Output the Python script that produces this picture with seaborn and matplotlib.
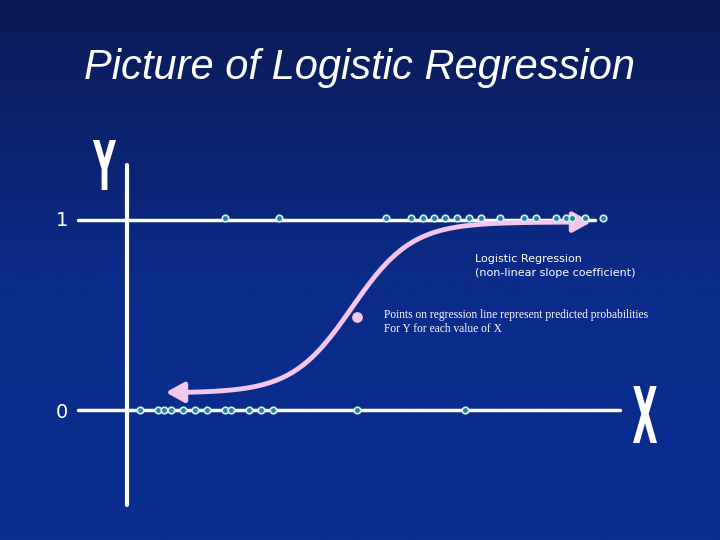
import numpy as np
import matplotlib
matplotlib.use("Agg")
import matplotlib.pyplot as plt
import seaborn as sns
from matplotlib.colors import LinearSegmentedColormap
from matplotlib.textpath import TextPath
from matplotlib.patches import PathPatch
from matplotlib.font_manager import FontProperties
from matplotlib.transforms import Affine2D

top_x = [225, 279, 386, 411, 423, 434, 445, 457, 469, 481, 500, 524, 536, 556, 566, 572, 585, 603]
bottom_x = [140, 158, 164, 171, 183, 195, 207, 225, 231, 249, 261, 273, 357, 465]
y_one, y_zero = 218, 410
mid_point = (357, 317)

sns.set_theme(style="white")
fig = plt.figure(figsize=(7.2, 5.4), dpi=100)
ax = fig.add_axes([0, 0, 1, 1])
ax.set_xlim(0, 720)
ax.set_ylim(540, 0)
ax.axis("off")

grad = np.linspace(0, 1, 256).reshape(-1, 1)
cmap = LinearSegmentedColormap.from_list("bg", ["#0b1a55", "#0a2b88", "#0a2e92"])
ax.imshow(grad, extent=[0, 720, 540, 0], cmap=cmap, aspect="auto", zorder=0)

ax.plot([78, 595], [220, 220], color="white", lw=2.5, zorder=2)
ax.plot([78, 620], [410, 410], color="white", lw=2.5, zorder=2)
ax.plot([127, 127], [165, 505], color="white", lw=3, zorder=2)

pink = "#f4c6ee"
xs = np.linspace(185, 578, 300)
ys = 393 - 171 / (1 + np.exp(-(xs - 352) / 30))
ax.plot(xs, ys, color=pink, lw=3.5, zorder=3, solid_capstyle="round")
ax.annotate("", xy=(163, ys[0]), xytext=(xs[0] + 5, ys[0]),
            arrowprops=dict(arrowstyle="-|>,head_length=0.9,head_width=0.5", color=pink, lw=3.5), zorder=3)
ax.annotate("", xy=(594, ys[-1]), xytext=(xs[-1] - 5, ys[-1]),
            arrowprops=dict(arrowstyle="-|>,head_length=0.9,head_width=0.5", color=pink, lw=3.5), zorder=3)

sns.scatterplot(x=top_x, y=[y_one] * len(top_x), ax=ax, s=22, marker="o",
                facecolor="#2a7f9a", edgecolor="#cfeff5", linewidth=1.2, zorder=4)
sns.scatterplot(x=bottom_x, y=[y_zero] * len(bottom_x), ax=ax, s=22, marker="o",
                facecolor="#2a7f9a", edgecolor="#cfeff5", linewidth=1.2, zorder=4)
ax.scatter([mid_point[0]], [mid_point[1]], s=45, color=pink, zorder=4)

ax.text(360, 68, "Picture of Logistic Regression", color="white", fontsize=30,
        style="italic", ha="center", va="center", family="Liberation Sans", zorder=5)

def tall_letter(ch, x0, x1, y0, y1):
    tp = TextPath((0, 0), ch, size=100, prop=FontProperties(family="DejaVu Sans", weight="bold"))
    ext = tp.get_extents()
    sx = (x1 - x0) / ext.width
    sy = (y1 - y0) / ext.height
    tr = Affine2D().translate(-ext.x0, -ext.y1).scale(sx, -sy).translate(x0, y0)
    ax.add_patch(PathPatch(tr.transform_path(tp), color="white", lw=0, zorder=5))

tall_letter("Y", 93, 116, 140, 190)
tall_letter("X", 633, 657, 386, 443)

ax.text(62, 220, "1", color="white", fontsize=14, ha="center", va="center", zorder=5)
ax.text(62, 412, "0", color="white", fontsize=14, ha="center", va="center", zorder=5)
ax.text(475, 266, "Logistic Regression\n(non-linear slope coefficient)", color="white",
        fontsize=8, ha="left", va="center", linespacing=1.5, zorder=5)
ax.text(384, 322, "Points on regression line represent predicted probabilities\nFor Y for each value of X",
        color="white", fontsize=8.3, ha="left", va="center", family="Liberation Serif", zorder=5)

fig.savefig("out.png", dpi=100)
